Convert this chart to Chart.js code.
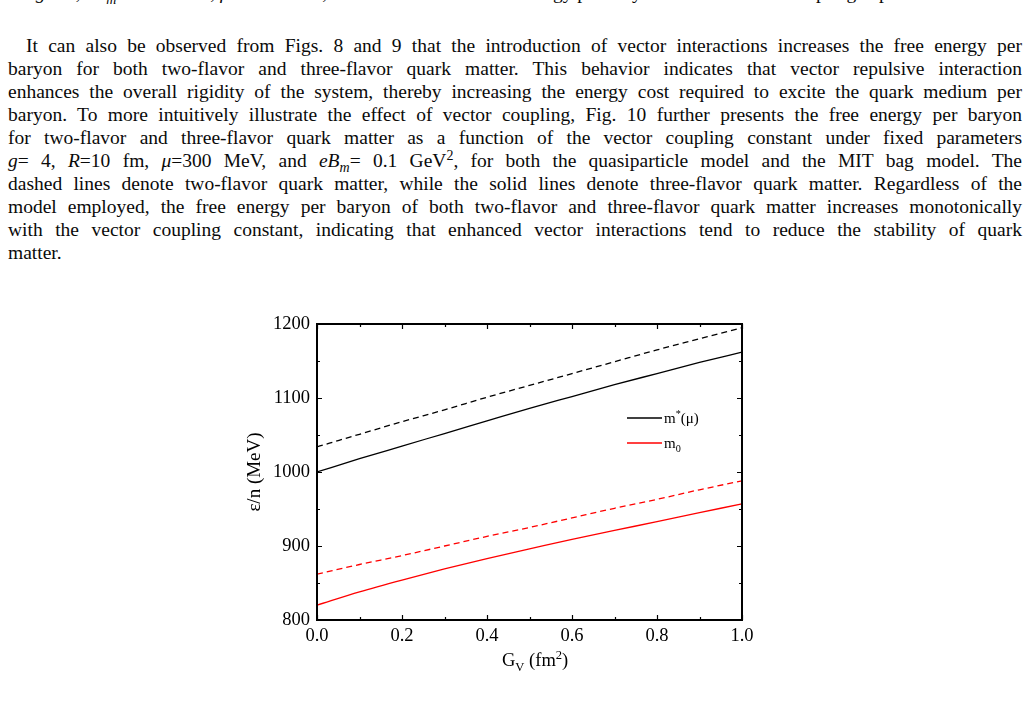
<!DOCTYPE html>
<html>
<head>
<meta charset="utf-8">
<script src="https://cdn.jsdelivr.net/npm/chart.js@4.4.1/dist/chart.umd.min.js"></script>
<style>
  html, body { margin: 0; padding: 0; background: #fff; }
  body { width: 1030px; height: 703px; overflow: hidden; position: relative;
         font-family: "Liberation Serif", "Times New Roman", serif; color: #0a0a0a; }
  .ln { position: absolute; left: 8px; width: 1014px; height: 23px; line-height: 23px;
        font-size: 19.5px; white-space: nowrap; text-align: justify; text-align-last: justify; }
  .ln.first { left: 26px; width: 996px; }
  .ln.last { text-align-last: left; }
  .ln sub, .ln sup { line-height: 0; font-size: 14px; }
  #wrap { position: absolute; left: 230px; top: 300px; width: 540px; height: 390px; }
</style>
</head>
<body>
<div class="ln last" style="top:-19px; left:8px;">for <i>g</i> = 4, <i>eB<sub>m</sub></i> = 0.1 GeV<sup>2</sup>, <i>μ</i> = 300 MeV, the variation of the free energy per baryon with the vector coupling is presented.</div>
<div class="ln first" style="top:34px;">It can also be observed from Figs. 8 and 9 that the introduction of vector interactions increases the free energy per</div>
<div class="ln" style="top:57px;">baryon for both two-flavor and three-flavor quark matter. This behavior indicates that vector repulsive interaction</div>
<div class="ln" style="top:80px;">enhances the overall rigidity of the system, thereby increasing the energy cost required to excite the quark medium per</div>
<div class="ln" style="top:103px;">baryon. To more intuitively illustrate the effect of vector coupling, Fig.&nbsp;10 further presents the free energy per baryon</div>
<div class="ln" style="top:126px;">for two-flavor and three-flavor quark matter as a function of the vector coupling constant under fixed parameters</div>
<div class="ln" style="top:149px;"><i>g</i>= 4, <i>R</i>=10 fm, <i>μ</i>=300 MeV, and <i>eB<sub>m</sub></i>= 0.1 GeV<sup>2</sup>, for both the quasiparticle model and the MIT bag model. The</div>
<div class="ln" style="top:172px;">dashed lines denote two-flavor quark matter, while the solid lines denote three-flavor quark matter. Regardless of the</div>
<div class="ln" style="top:195px;">model employed, the free energy per baryon of both two-flavor and three-flavor quark matter increases monotonically</div>
<div class="ln" style="top:218px;">with the vector coupling constant, indicating that enhanced vector interactions tend to reduce the stability of quark</div>
<div class="ln last" style="top:241px;">matter.</div>

<div id="wrap"><canvas id="chart" width="540" height="390"></canvas></div>

<script>
// vector coupling G_V (fm^2)
const gv = [0, 0.1, 0.2, 0.3, 0.4, 0.5, 0.6, 0.7, 0.8, 0.9, 1.0];
// free energy per baryon (MeV), quasiparticle model m*(mu)
const mStarTwoFlavor = [1034, 1051, 1068, 1084, 1101, 1117, 1133, 1149, 1165, 1180, 1195];
const mStarThreeFlavor = [1000, 1018, 1035, 1052, 1069, 1086, 1102, 1118, 1133, 1148, 1162];
// MIT bag model m0
const m0TwoFlavor = [862, 875, 887, 900, 913, 925, 938, 951, 963, 976, 988];
const m0ThreeFlavor = [820, 838, 854, 869, 883, 896, 909, 921, 933, 945, 957];

const xTicks = [0, 0.2, 0.4, 0.6, 0.8, 1.0];
const yTicks = [800, 900, 1000, 1100, 1200];
const legendLabels = [['m', 'n'], ['*', 'sup'], ['(μ)', 'n']];
const legendLabels2 = [['m', 'n'], ['0', 'sub']];

const FONT = '"Liberation Serif", "Times New Roman", serif';

function toPoints(ys) {
    return ys.map((y, i) => ({ x: gv[i], y: y }));
}

function line(data, color, dashed) {
    return {
        data: toPoints(data),
        borderColor: color,
        borderWidth: 1.3,
        borderDash: dashed ? [6, 4] : [],
        pointRadius: 0,
        fill: false,
        cubicInterpolationMode: 'monotone'
    };
}

/**
 * Draws text made of normal / sub / sup parts, returns end x
 */
function drawRich(ctx, x, y, parts, size) {
    ctx.textBaseline = 'alphabetic';
    ctx.textAlign = 'left';
    parts.forEach(([txt, kind]) => {
        let s = kind === 'n' ? size : size * 0.68;
        let dy = kind === 'sub' ? size * 0.25 : (kind === 'sup' ? -size * 0.4 : 0);
        ctx.font = s + 'px ' + FONT;
        ctx.fillText(txt, x, y + dy);
        x += ctx.measureText(txt).width;
    });
    return x;
}

// frame, inward ticks, x title and legend
const extras = {
    id: 'extras',
    afterDraw(chart) {
        const ctx = chart.ctx;
        const a = chart.chartArea;
        const xs = chart.scales.x, ys = chart.scales.y;
        ctx.save();
        ctx.strokeStyle = '#000';
        ctx.lineWidth = 2;
        ctx.strokeRect(a.left, a.top, a.right - a.left, a.bottom - a.top);

        ctx.lineWidth = 1.2;
        ctx.beginPath();
        for (let v = 0; v <= 10; v++) {
            let px = Math.round(xs.getPixelForValue(v / 10)) + 0.5;
            let len = v % 2 === 0 ? 5 : 3;
            ctx.moveTo(px, a.bottom); ctx.lineTo(px, a.bottom - len);
            ctx.moveTo(px, a.top); ctx.lineTo(px, a.top + len);
        }
        for (let v = 800; v <= 1200; v += 50) {
            let py = Math.round(ys.getPixelForValue(v)) + 0.5;
            let len = v % 100 === 0 ? 5 : 3;
            ctx.moveTo(a.left, py); ctx.lineTo(a.left + len, py);
            ctx.moveTo(a.right, py); ctx.lineTo(a.right - len, py);
        }
        ctx.stroke();

        ctx.fillStyle = '#000';
        drawRich(ctx, 272, 366, [['G', 'n'], ['V', 'sub'], [' (fm', 'n'], ['2', 'sup'], [')', 'n']], 18.5);

        // legend
        const lx = 397, ly = 118;
        ctx.lineWidth = 1.3;
        ctx.strokeStyle = '#000';
        ctx.beginPath(); ctx.moveTo(lx, ly); ctx.lineTo(lx + 35, ly); ctx.stroke();
        ctx.strokeStyle = '#ff0000';
        ctx.beginPath(); ctx.moveTo(lx, ly + 25); ctx.lineTo(lx + 35, ly + 25); ctx.stroke();
        drawRich(ctx, lx + 37, ly + 5, legendLabels, 15);
        drawRich(ctx, lx + 37, ly + 30, legendLabels2, 15);
        ctx.restore();
    }
};

new Chart(document.getElementById('chart'), {
    type: 'line',
    data: {
        datasets: [
            line(mStarTwoFlavor, '#000000', true),
            line(mStarThreeFlavor, '#000000', false),
            line(m0TwoFlavor, '#ff0000', true),
            line(m0ThreeFlavor, '#ff0000', false)
        ]
    },
    options: {
        responsive: false,
        devicePixelRatio: 1,
        animation: false,
        layout: { padding: { top: 24, right: 28, left: 0, bottom: 0 } },
        plugins: { legend: { display: false }, tooltip: { enabled: false } },
        scales: {
            x: {
                type: 'linear',
                min: 0, max: 1,
                afterBuildTicks: (s) => { s.ticks = xTicks.map(v => ({ value: v })); },
                afterFit: (s) => { s.height = 70; },
                grid: { display: false, drawTicks: false },
                border: { display: false },
                ticks: {
                    color: '#000', padding: 5,
                    font: { family: FONT, size: 18.5 },
                    maxRotation: 0,
                    autoSkip: false,
                    callback: (v) => Number(v).toFixed(1)
                }
            },
            y: {
                type: 'linear',
                min: 800, max: 1200,
                afterBuildTicks: (s) => { s.ticks = yTicks.map(v => ({ value: v })); },
                afterFit: (s) => { s.width = 87; },
                grid: { display: false, drawTicks: false },
                border: { display: false },
                ticks: {
                    color: '#000', padding: 7,
                    font: { family: FONT, size: 18.5 },
                    autoSkip: false,
                    callback: (v) => String(v)
                },
                title: {
                    display: true,
                    text: 'ε/n (MeV)',
                    color: '#000',
                    font: { family: FONT, size: 19 },
                    padding: { top: 14, bottom: 0 }
                }
            }
        }
    },
    plugins: [extras]
});
</script>
</body>
</html>
